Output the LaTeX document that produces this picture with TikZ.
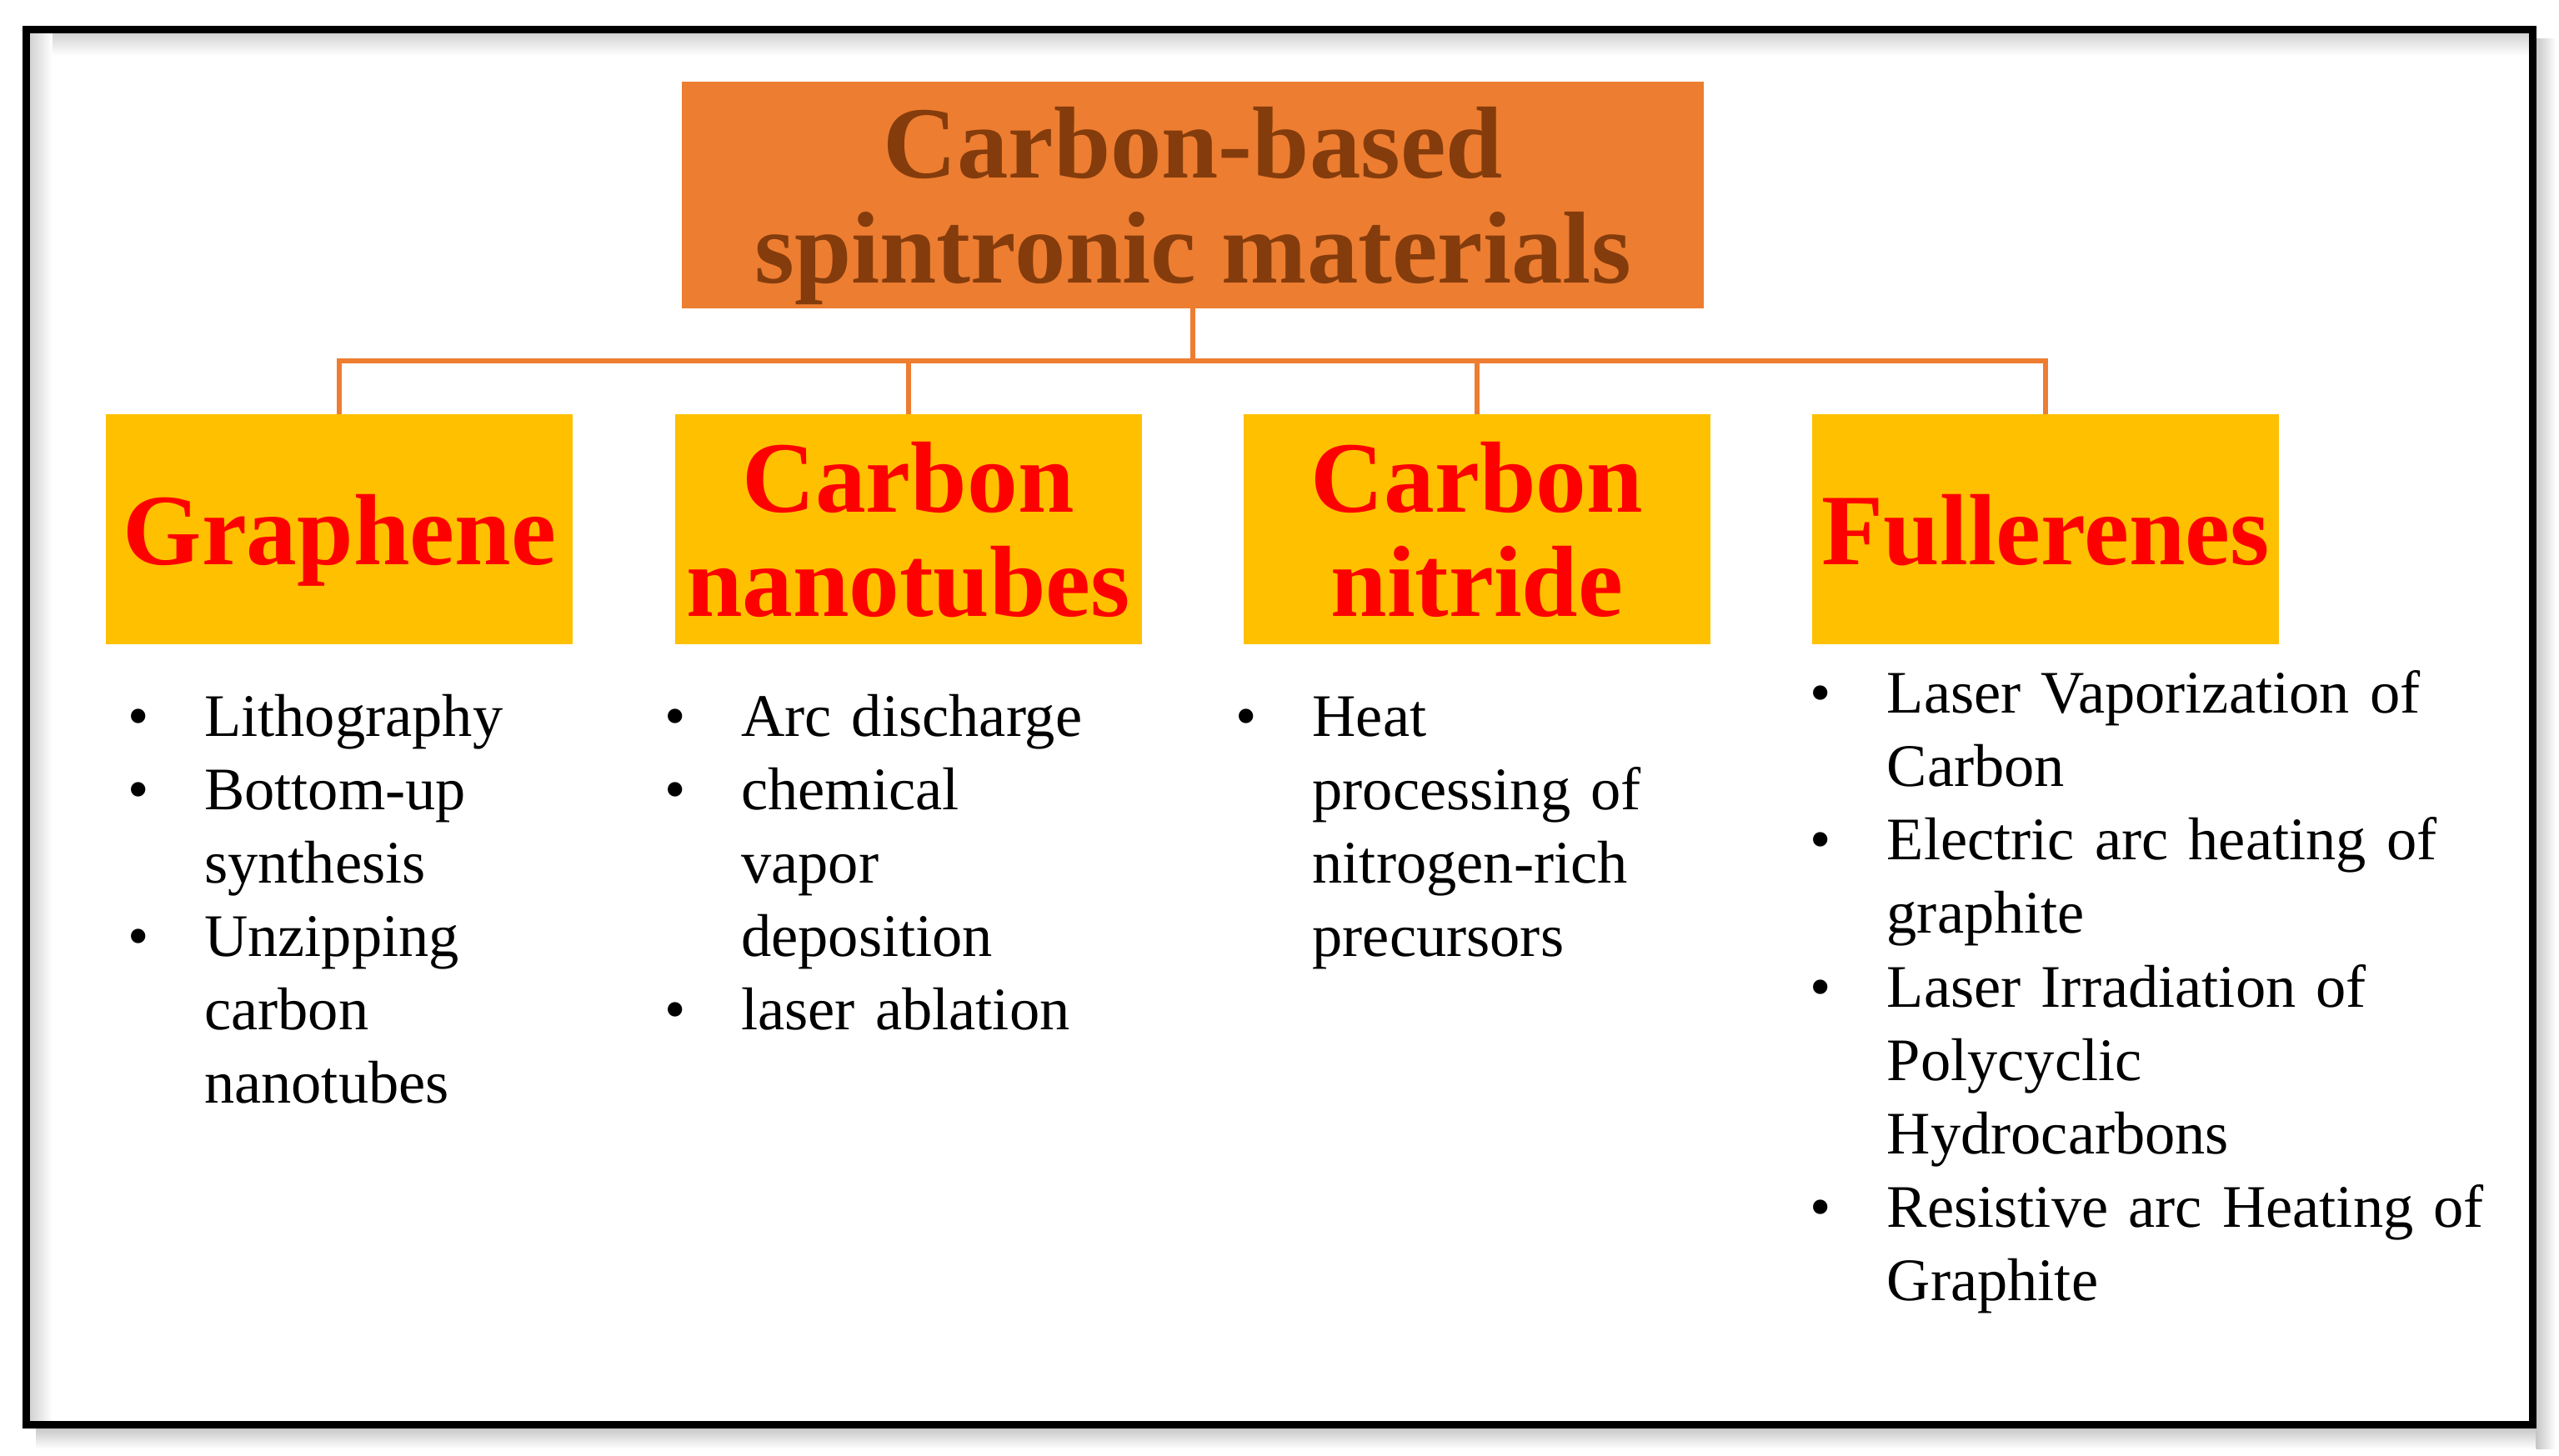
\documentclass[tikz,border=0pt]{standalone}
\usepackage{fontspec}
\setmainfont{Liberation Serif}
\definecolor{orng}{HTML}{ED7D31}
\definecolor{ylw}{HTML}{FFC000}
\definecolor{brwn}{HTML}{843C0C}
\definecolor{rd}{HTML}{FF0000}
\newcommand{\fitem}[1]{\hangindent=47pt\hangafter=1\makebox[47pt][l]{\textbullet}#1}
\newcommand{\bitem}[1]{\par\noindent\hangindent=47pt\hangafter=1\makebox[47pt][l]{\textbullet}#1}
\begin{document}
\begin{tikzpicture}[x=1pt,y=-1pt,
  topbox/.style={rectangle,fill=orng,minimum width=626pt,minimum height=139pt,inner sep=0pt,
    align=center,text=brwn,font=\fontsize{62.7}{64}\selectfont\bfseries,text depth=0pt},
  catbox/.style={rectangle,fill=ylw,minimum width=286pt,minimum height=141pt,inner sep=0pt,
    align=center,text=rd,font=\fontsize{62}{64}\selectfont\bfseries},
  listtxt/.style={anchor=base west,inner sep=0pt,text width=#1,
    font=\fontsize{37}{45}\selectfont,align=left},
  conn/.style={draw=orng,line width=3pt}]
\useasboundingbox (0,0) rectangle (1568,892);
\fill[white] (0,0) rectangle (1568,892);
% shadows
\shade[top color=black!18,bottom color=white] (18,20) rectangle (1550,34);
\shade[left color=black!18,right color=white] (18,20) rectangle (32,871);
\shade[top color=black!22,bottom color=white] (22,875) rectangle (1558,888);
\shade[left color=black!22,right color=white] (1554,24) rectangle (1566,888);
% frame
\draw[line width=4.5pt] (16,18) rectangle (1552,873);
% boxes
\node[topbox] (top) at (731,119.5) {Carbon-based\\spintronic materials};
\node[catbox,text depth=0pt] (g) at (208,324.5) {Graphene};
\node[catbox] (cnt) at (556.5,324.5) {Carbon\\nanotubes};
\node[catbox] (cn) at (905,324.5) {Carbon\\nitride};
\node[catbox,text depth=0pt] (f) at (1253.5,324.5) {Fullerenes};
% connectors
\coordinate (hub) at (731,221);
\draw[conn] (top.south) -- (hub);
\draw[conn] (g.north) |- (hub);
\draw[conn] (cnt.north) |- (hub);
\draw[conn] (cn.north) |- (hub);
\draw[conn] (f.north) |- (hub);
% lists
\node[listtxt=320pt] (gl) at (78,451) {\fitem{Lithography}\bitem{Bottom-up\newline synthesis}\bitem{Unzipping\newline carbon\newline nanotubes}\par};
\node[listtxt=320pt] (cntl) at (407,451) {\fitem{Arc discharge}\bitem{chemical\newline vapor\newline deposition}\bitem{laser ablation}\par};
\node[listtxt=320pt] (cnl) at (757,451) {\fitem{Heat\newline processing of\newline nitrogen-rich\newline precursors}\par};
\node[listtxt=440pt] (fl) at (1109,437) {\fitem{Laser Vaporization of\newline Carbon}\bitem{Electric arc heating of\newline graphite}\bitem{Laser Irradiation of\newline Polycyclic\newline Hydrocarbons}\bitem{Resistive arc Heating of\newline Graphite}\par};
\end{tikzpicture}
\end{document}
